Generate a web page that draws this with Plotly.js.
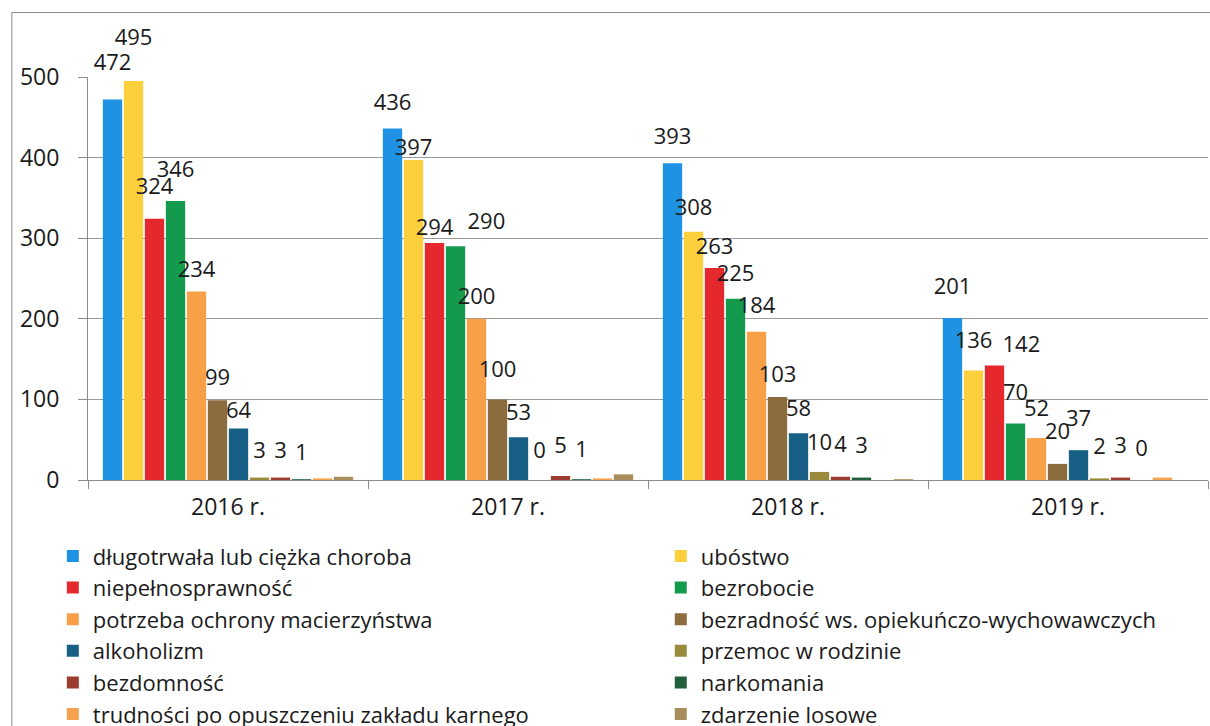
<!DOCTYPE html>
<html>
<head>
<meta charset="utf-8">
<script src="https://cdn.plot.ly/plotly-3.0.1.min.js"></script>
<style>html,body{margin:0;padding:0;background:#fff;}#chart{width:1210px;height:726px;}</style>
</head>
<body>
<div id="chart"></div>
<script>
const categories = ["2016 r.", "2017 r.", "2018 r.", "2019 r."];

const seriesNames = [
  "długotrwała lub ciężka choroba",
  "ubóstwo",
  "niepełnosprawność",
  "bezrobocie",
  "potrzeba ochrony macierzyństwa",
  "bezradność ws. opiekuńczo-wychowawczych",
  "alkoholizm",
  "przemoc w rodzinie",
  "bezdomność",
  "narkomania",
  "trudności po opuszczeniu zakładu karnego",
  "zdarzenie losowe"
];

const choroba        = [472, 436, 393, 201];
const ubostwo        = [495, 397, 308, 136];
const niepelnosp     = [324, 294, 263, 142];
const bezrobocie     = [346, 290, 225, 70];
const macierzynstwo  = [234, 200, 184, 52];
const bezradnosc     = [99, 100, 103, 20];
const alkoholizm     = [64, 53, 58, 37];
const przemoc        = [3, 0, 10, 2];
const bezdomnosc     = [3, 5, 4, 3];
const narkomania     = [1, 1, 3, 0];
const zakladKarny    = [2, 2, 0, 3];
const zdarzenie      = [4, 7, 1, 0];

const seriesValues = [choroba, ubostwo, niepelnosp, bezrobocie, macierzynstwo, bezradnosc,
  alkoholizm, przemoc, bezdomnosc, narkomania, zakladKarny, zdarzenie];
const showLabels = [true, true, true, true, true, true, true, true, true, true, false, false];

// label placement (styling only): side and extra lift in px above the bar top
const labelPos = [
  ["top center", "top center", "top center", "top center"],
  ["top center", "top center", "top center", "top center"],
  ["top center", "top center", "top center", "top right"],
  ["top center", "top right", "top center", "top center"],
  ["top center", "top center", "top center", "top center"],
  ["top center", "top center", "top center", "top center"],
  ["top center", "top center", "top center", "top center"],
  ["top center", "top center", "top center", "top center"],
  ["top center", "top center", "top center", "top center"],
  ["top center", "top center", "top center", "top center"],
  ["top center", "top center", "top center", "top center"],
  ["top center", "top center", "top center", "top center"]
];
const labelLift = [
  [24, 13, 14, 18],
  [31, 0, 11, 17],
  [19, 3, 9, 8],
  [19, 12, 12, 18],
  [9, 9, 13, 17],
  [10, 17, 9, 19],
  [5, 12, 12, 19],
  [14, 17, 16, 19],
  [14, 17, 19, 19],
  [14, 17, 19, 19],
  [0, 0, 0, 0],
  [0, 0, 0, 0]
];

const colors = ["#1f92e4", "#fcd03c", "#e5282e", "#149a4c", "#f8a048", "#8a6c3e",
  "#185f86", "#9a8a3c", "#9c3b30", "#215e3c", "#f7a24e", "#a88c5c"];

const FONT = "Open Sans, Noto Sans, sans-serif";
const FS = 23;

const barTraces = seriesNames.map((name, i) => ({
  type: "bar",
  name: name,
  x: categories,
  y: seriesValues[i],
  marker: {color: colors[i]},
  offsetgroup: "o" + i,
  legend: (i % 2 === 0) ? "legend" : "legend2",
  legendgroup: "g" + i,
  hoverinfo: "x+y+name"
}));

// invisible marker whose size sets the gap between bar top and label
const labelTraces = seriesNames.map((name, i) => ({
  type: "scatter",
  mode: "markers+text",
  name: name,
  x: categories,
  y: seriesValues[i],
  offsetgroup: "o" + i,
  marker: {
    color: "rgba(0,0,0,0)",
    size: labelLift[i].map(r => r > 1 ? (r - 1) * 1.6 : 0),
    line: {width: 0}
  },
  text: showLabels[i] ? seriesValues[i].map(String) : seriesValues[i].map(() => ""),
  textposition: labelPos[i],
  textfont: {family: FONT, size: FS - 1, color: "#1a1a1a"},
  cliponaxis: false,
  showlegend: false,
  hoverinfo: "skip"
}));

const legendCommon = {
  orientation: "v",
  yanchor: "top",
  xanchor: "left",
  font: {family: FONT, size: FS - 1, color: "#1a1a1a"},
  tracegroupgap: 0,
  itemwidth: 30,
  bgcolor: "rgba(0,0,0,0)"
};

const layout = {
  width: 1210,
  height: 726,
  margin: {l: 88, r: 2, t: 77, b: 246, autoexpand: false},
  paper_bgcolor: "#fff",
  plot_bgcolor: "#fff",
  font: {family: FONT, color: "#1a1a1a", size: FS},
  barmode: "group",
  scattermode: "group",
  bargap: 0.1,
  bargroupgap: 0.08,
  showlegend: true,
  legend: Object.assign({}, legendCommon, {x: -0.0314, y: -0.137}),
  legend2: Object.assign({}, legendCommon, {x: 0.5114, y: -0.137}),
  xaxis: {
    type: "category",
    showgrid: false,
    showline: true, linecolor: "#8c8c8c", linewidth: 1,
    ticks: "outside", tickson: "boundaries", ticklen: 8, tickcolor: "#8c8c8c",
    ticklabelstandoff: 6,
    tickfont: {family: FONT, size: FS, color: "#1a1a1a"},
    fixedrange: true
  },
  yaxis: {
    range: [0, 500],
    tickvals: [0, 100, 200, 300, 400, 500],
    showgrid: true, gridcolor: "#9a9a9a", gridwidth: 1,
    showline: true, linecolor: "#8c8c8c", linewidth: 1,
    ticks: "outside", ticklen: 9, tickcolor: "#8c8c8c",
    ticklabelstandoff: 14,
    tickfont: {family: FONT, size: FS, color: "#1a1a1a"},
    zeroline: false,
    fixedrange: true
  },
  shapes: [
    {type: "line", xref: "paper", yref: "paper", x0: -0.068, x1: -0.068, y0: -0.62, y1: 1.16,
     line: {color: "#8c8c8c", width: 1}},
    {type: "line", xref: "paper", yref: "paper", x0: -0.068, x1: 1.01, y0: 1.16, y1: 1.16,
     line: {color: "#8c8c8c", width: 1}}
  ]
};

Plotly.newPlot("chart", barTraces.concat(labelTraces), layout, {displayModeBar: false, staticPlot: true});
</script>
</body>
</html>
